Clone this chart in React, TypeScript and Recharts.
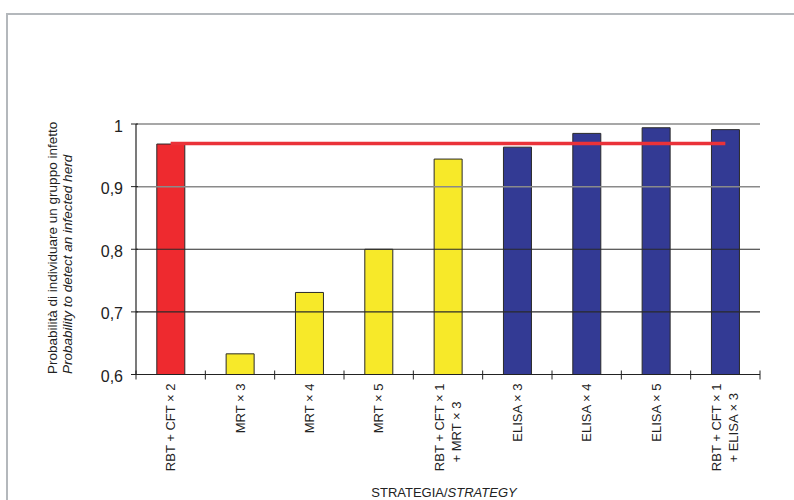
import React from 'react';
import {
  ComposedChart, Bar, Line, XAxis, YAxis, ReferenceLine, Cell,
} from 'recharts';

const STRATEGIES = [
  ['RBT + CFT × 2'],
  ['MRT × 3'],
  ['MRT × 4'],
  ['MRT × 5'],
  ['RBT + CFT × 1', '+ MRT × 3'],
  ['ELISA × 3'],
  ['ELISA × 4'],
  ['ELISA × 5'],
  ['RBT + CFT × 1', '+ ELISA × 3'],
];
const PROBABILITY = [0.968, 0.633, 0.731, 0.8, 0.944, 0.963, 0.985, 0.994, 0.991];
const GROUP = ['serology', 'mrt', 'mrt', 'mrt', 'mrt', 'elisa', 'elisa', 'elisa', 'elisa'];
const THRESHOLD = 0.969;
const Y_TICKS = [0.6, 0.7, 0.8, 0.9, 1];

const GROUP_COLORS: Record<string, string> = {
  serology: '#ee2a2f',
  mrt: '#f7e929',
  elisa: '#333a94',
};

const data = STRATEGIES.map((lines, i) => ({
  name: lines.join('\n'),
  value: PROBABILITY[i],
  threshold: THRESHOLD,
  group: GROUP[i],
}));

const W = 794;
const H = 500;
const MARGIN = { top: 124, right: 34, bottom: 25.5, left: 76 };
const Y_AXIS_W = 60;
const X_AXIS_H = 100;
const PLOT_W = W - MARGIN.left - MARGIN.right - Y_AXIS_W;
const BAND = PLOT_W / STRATEGIES.length;
const FONT = '"Liberation Sans", Arial, sans-serif';

const CategoryTick = ({ x, y, payload, index }: any) => {
  const lines = String(payload.value).split('\n');
  const top = y + 9;
  return (
    <g>
      {index === 0 && <line x1={x - BAND / 2} x2={x - BAND / 2} y1={y - 4} y2={y + 5} stroke="#222" />}
      <line x1={x + BAND / 2} x2={x + BAND / 2} y1={y - 4} y2={y + 5} stroke="#222" />
      {lines.length === 1 ? (
        <text transform={`translate(${x},${top}) rotate(-90)`} textAnchor="end" dominantBaseline="central"
          fontSize={13} fill="#222" fontFamily={FONT}>{lines[0]}</text>
      ) : (
        <>
          <text transform={`translate(${x - 9},${top}) rotate(-90)`} textAnchor="end" dominantBaseline="central"
            fontSize={13} fill="#222" fontFamily={FONT}>{lines[0]}</text>
          <text transform={`translate(${x + 8},${top + 79}) rotate(-90)`} textAnchor="start" dominantBaseline="central"
            fontSize={13} fill="#222" fontFamily={FONT}>{lines[1]}</text>
        </>
      )}
    </g>
  );
};

const ValueTick = ({ x, y, payload }: any) => (
  <g>
    <line x1={x - 5} x2={x + 2} y1={y} y2={y} stroke="#222" />
    <text x={x - 13} y={y + 2} textAnchor="end" dominantBaseline="central" fontSize={16} fill="#222" fontFamily={FONT}>
      {String(payload.value).replace('.', ',')}
    </text>
  </g>
);

export default function App() {
  return (
    <div style={{ position: 'absolute', left: 0, top: 0, width: W, height: H, overflow: 'hidden', background: '#fff' }}>
      {/* page frame */}
      <div style={{
        position: 'absolute', left: 6, top: 13, width: 820, height: 540,
        border: '2px solid #b4b8bc', boxSizing: 'border-box',
      }} />
      <ComposedChart width={W} height={H} data={data} margin={MARGIN} barCategoryGap="30%"
        style={{ position: 'absolute', left: 0, top: 0 }}>
        <XAxis dataKey="name" height={X_AXIS_H} interval={0} tickLine={false} tickSize={0} tickMargin={0}
          axisLine={{ stroke: '#222', strokeWidth: 1.2 }} tick={<CategoryTick />} />
        <YAxis domain={[0.6, 1]} ticks={Y_TICKS} width={Y_AXIS_W} tickLine={false} tickSize={0} tickMargin={0}
          axisLine={{ stroke: '#222', strokeWidth: 1.2 }} tick={<ValueTick />} allowDataOverflow />
        <YAxis yAxisId="frame" orientation="right" width={0} tick={false} tickLine={false}
          axisLine={{ stroke: '#8a8a8a', strokeWidth: 1.2 }} />
        <ReferenceLine y={0.7} stroke="#2a2a2a" strokeWidth={1.2} />
        <ReferenceLine y={0.8} stroke="#2a2a2a" strokeWidth={1.2} />
        <ReferenceLine y={0.9} stroke="#8a8a8a" strokeWidth={1.5} />
        <ReferenceLine y={1} stroke="#8a8a8a" strokeWidth={1.5} />
        <Bar dataKey="value" stroke="#2a2a2a" strokeWidth={1} isAnimationActive={false}>
          {data.map((d, i) => (
            <Cell key={`bar-${i}`} fill={GROUP_COLORS[d.group]} />
          ))}
        </Bar>
        <Line dataKey="threshold" stroke="#ea3239" strokeWidth={3.5} dot={false} activeDot={false} isAnimationActive={false} />
        {/* axis titles */}
        <text transform="translate(57,374) rotate(-90)" textAnchor="start" fontSize={13.5} fill="#222" fontFamily={FONT}>
          Probabilità di individuare un gruppo infetto
        </text>
        <text transform="translate(72,374) rotate(-90)" textAnchor="start" fontSize={13.5} fill="#222" fontFamily={FONT}
          fontStyle="italic">
          Probability to detect an infected herd
        </text>
        <text x={444} y={497} textAnchor="middle" fontSize={13} fill="#222" fontFamily={FONT}>
          STRATEGIA/<tspan fontStyle="italic">STRATEGY</tspan>
        </text>
      </ComposedChart>
    </div>
  );
}
